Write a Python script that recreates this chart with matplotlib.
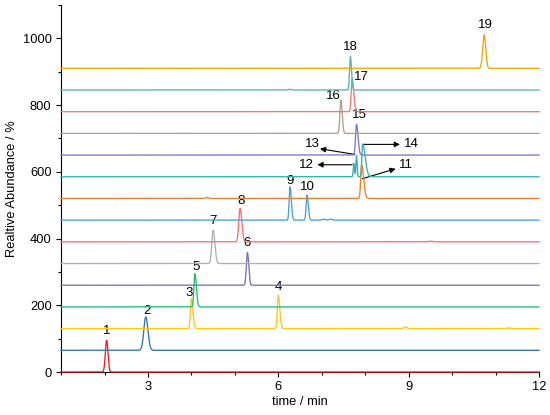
import numpy as np
import matplotlib
matplotlib.use("Agg")
import matplotlib.pyplot as plt
from matplotlib.ticker import MultipleLocator

plt.rcParams['font.family'] = ['Liberation Sans', 'DejaVu Sans']

# one colour per stacked trace, bottom to top
trace_colors = ['#f01c24', '#2e75b0', '#ffc61e', '#1fc06e', '#7673b8',
                '#b0b0b0', '#ff6b6b', '#4a9fd8', '#f57f20', '#3aafa9',
                '#7b78c8', '#b0a090', '#f07878', '#58b4ae', '#f0a500']
offset_step = 65

# labelled peaks 1..19
peak_trace = [0, 1, 2, 2, 3, 4, 5, 6, 7, 7, 8, 9, 9, 9, 10, 11, 12, 13, 14]
peak_rt = [2.05, 2.95, 4.00, 6.00, 4.08, 5.29, 4.50, 5.12, 6.27, 6.66,
           7.92, 7.74, 7.80, 7.94, 7.80, 7.44, 7.70, 7.66, 10.74]
peak_height = [95, 100, 91, 100, 100, 98, 100, 100, 100, 75,
               100, 40, 64, 98, 92, 100, 100, 100, 100]
peak_sig_l = [0.030, 0.045, 0.022, 0.022, 0.022, 0.025, 0.030, 0.030, 0.020, 0.020,
              0.022, 0.014, 0.014, 0.018, 0.022, 0.022, 0.022, 0.020, 0.035]
peak_sig_r = [0.030, 0.050, 0.035, 0.035, 0.035, 0.030, 0.040, 0.040, 0.030, 0.030,
              0.045, 0.014, 0.014, 0.060, 0.035, 0.030, 0.035, 0.025, 0.035]
peak_names = [str(i) for i in range(1, 20)]

# where each peak number is written (data units)
label_x = [2.05, 2.98, 3.95, 6.00, 4.10, 5.29, 4.49, 5.14, 6.27, 6.67,
           8.93, 6.65, 6.78, 9.07, 7.86, 7.27, 7.92, 7.65, 10.76]
label_y = [123, 182, 236, 254, 315, 388, 451, 511, 572, 555,
           621, 621, 682, 682, 769, 828, 883, 973, 1041]

# arrows for the crowded peaks: (label, tail, head)
arrow_label = ['11', '12', '13', '14']
arrow_tail = [(7.93, 579), (7.70, 621), (7.76, 652), (7.95, 682)]
arrow_head = [(8.70, 609), (6.90, 621), (6.96, 669), (8.80, 682)]

# small unlabelled bumps
bump_trace = [2, 2, 6, 7, 7, 8, 13]
bump_rt = [8.92, 11.30, 9.50, 7.05, 7.20, 4.35, 6.25]
bump_height = [5, 2, 2, 3, 3, 3, 2]


def peak(t, rt, h, sl, sr):
    s = np.where(t < rt, sl, sr)
    return h * np.exp(-0.5 * ((t - rt) / s) ** 2)


t = np.linspace(1, 12, 6000)

fig = plt.figure(figsize=(5.5, 4.15), dpi=100)
ax = fig.add_axes([0.111, 0.1036, 0.869, 0.8846])

for k, col in enumerate(trace_colors):
    y = np.full_like(t, k * offset_step, dtype=float)
    for i in range(len(peak_rt)):
        if peak_trace[i] == k:
            y += peak(t, peak_rt[i], peak_height[i], peak_sig_l[i], peak_sig_r[i])
    for i in range(len(bump_rt)):
        if bump_trace[i] == k:
            y += peak(t, bump_rt[i], bump_height[i], 0.03, 0.04)
    ax.plot(t, y, color=col, lw=0.95, clip_on=False, zorder=3 + k * 0.01)

for i, name in enumerate(peak_names):
    ax.text(label_x[i], label_y[i], name, ha='center', va='center', fontsize=9.5)

for name, tail, head in zip(arrow_label, arrow_tail, arrow_head):
    ax.annotate('', xy=head, xytext=tail,
                arrowprops=dict(arrowstyle='-|>', color='black', lw=0.8,
                                mutation_scale=8, shrinkA=0, shrinkB=0))

ax.set_xlim(1, 12)
ax.set_ylim(0, 1100)
ax.xaxis.set_major_locator(MultipleLocator(3))
ax.xaxis.set_minor_locator(MultipleLocator(1))
ax.yaxis.set_major_locator(MultipleLocator(200))
ax.yaxis.set_minor_locator(MultipleLocator(100))
ax.tick_params(which='major', length=3.8, width=0.8, labelsize=9.3, pad=3)
ax.tick_params(which='minor', length=2.3, width=0.8)
for side in ['top', 'right']:
    ax.spines[side].set_visible(False)

ax.set_xlabel('time / min', fontsize=9.3, labelpad=2)
ax.set_ylabel('Realtive Abundance / %', fontsize=9.3, labelpad=3)

fig.savefig('out.png', dpi=100)
